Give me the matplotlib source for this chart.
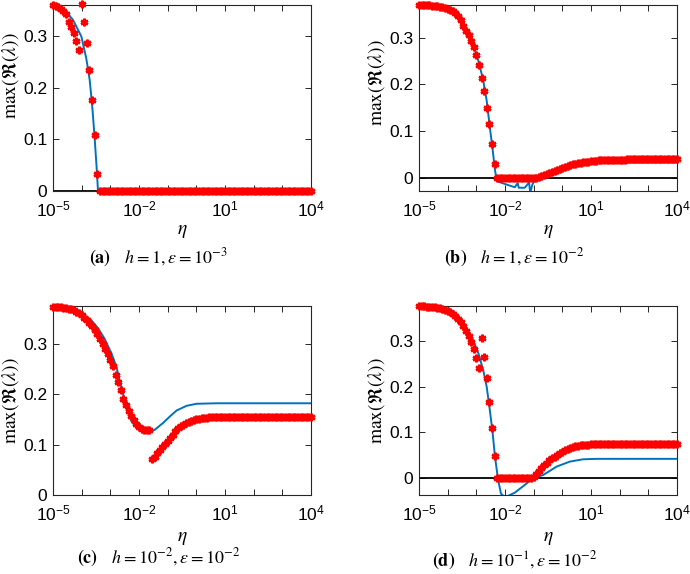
import numpy as np
import matplotlib
matplotlib.use("Agg")
import matplotlib.pyplot as plt
from matplotlib.ticker import FixedLocator, NullFormatter

plt.rcParams["font.family"] = ["Liberation Sans", "DejaVu Sans"]
plt.rcParams["mathtext.fontset"] = "stix"

# grid of eta values (100 points, log-spaced) used for the red markers
eta = np.logspace(-5, 4, 100)

# red markers, one value per eta
red_a = [0.360, 0.359, 0.357, 0.353, 0.348, 0.343, 0.328, 0.318, 0.305, 0.291,
         0.273, 0.362, 0.328, 0.286, 0.235, 0.177, 0.108, 0.033] + [0.0] * 82
red_b = ([0.370, 0.370, 0.370, 0.369, 0.369, 0.368, 0.368, 0.367, 0.366, 0.365,
          0.364, 0.362, 0.360, 0.357, 0.353, 0.347, 0.338,
          0.326, 0.315, 0.305, 0.294, 0.281, 0.264, 0.242, 0.214, 0.186, 0.150,
          0.115, 0.072, 0.030]
         + [0.0] * 16
         + [0.002, 0.004, 0.006, 0.008, 0.010, 0.012, 0.015, 0.017, 0.019, 0.021,
            0.023, 0.025, 0.027, 0.029, 0.030, 0.031, 0.032, 0.033, 0.034, 0.035,
            0.036, 0.0365, 0.037, 0.0373, 0.0376,
            0.0378, 0.038, 0.0382, 0.0384, 0.0386, 0.0388, 0.039, 0.0392, 0.0394,
            0.0396, 0.0398, 0.040]
         + [0.040] * 17)
red_c = ([0.373, 0.373, 0.373, 0.373, 0.372, 0.371, 0.370, 0.369, 0.367, 0.364,
          0.361, 0.357, 0.352, 0.347, 0.342, 0.336, 0.328,
          0.320, 0.310, 0.300, 0.290, 0.280, 0.268, 0.255, 0.239, 0.224, 0.209,
          0.191, 0.178, 0.166, 0.156, 0.148, 0.140, 0.134, 0.130, 0.128, 0.128, 0.129,
          0.071, 0.076, 0.083, 0.089, 0.095, 0.101, 0.107, 0.114, 0.120, 0.127,
          0.132, 0.136, 0.139, 0.142, 0.144, 0.146, 0.148, 0.150, 0.151, 0.152,
          0.153, 0.1535, 0.154, 0.1545]
         + [0.155] * 38)
red_d = ([0.375, 0.375, 0.375, 0.374, 0.374, 0.373, 0.373, 0.372, 0.371, 0.370,
          0.368, 0.366, 0.363, 0.359, 0.354, 0.348, 0.341,
          0.333, 0.322, 0.311, 0.298, 0.282, 0.262, 0.240,
          0.307, 0.265, 0.218, 0.166, 0.109, 0.049]
         + [0.0] * 14
         + [0.002, 0.008, 0.015, 0.021, 0.028, 0.034, 0.039, 0.043, 0.047, 0.051,
            0.055, 0.058, 0.061, 0.064, 0.066, 0.068, 0.0695, 0.0705, 0.0715, 0.072,
            0.0725, 0.073, 0.0735, 0.074]
         + [0.0745] * 32)

# blue curves: log10(eta) and value
blue_a_x = [-5.0, -4.8, -4.59, -4.30, -4.01, -3.84, -3.72, -3.63, -3.55, -3.48, -3.43, 4.0]
blue_a_y = [0.360, 0.357, 0.350, 0.331, 0.299, 0.257, 0.215, 0.163, 0.105, 0.047, 0.0, 0.0]

blue_b_x = [-5.0, -4.5, -4.0, -3.7, -3.55, -3.40, -3.16, -2.93, -2.76, -2.64, -2.53,
            -2.43, -2.35, -2.29, -2.24, -2.0, -1.66, -1.56, -1.52, -1.31, -1.16,
            -1.12, -1.05, -0.96, -0.90, -0.68, -0.20, 0.26, 0.71, 1.19, 4.0]
blue_b_y = [0.370, 0.369, 0.364, 0.350, 0.340, 0.326, 0.294, 0.251, 0.209, 0.166, 0.109,
            0.060, 0.017, -0.004, -0.008, -0.013, -0.020, -0.011, -0.021, -0.021, -0.010,
            -0.032, -0.015, -0.004, 0.0, 0.006, 0.019, 0.028, 0.031, 0.0326, 0.033]

blue_c_x = [-5.0, -4.5, -4.0, -3.67, -3.43, -3.2, -2.97, -2.79, -2.68, -2.56, -2.45,
            -2.33, -2.15, -1.92, -1.69, -1.46, -1.17, -0.92, -0.69, -0.34, 0.01, 0.7, 4.0]
blue_c_y = [0.373, 0.371, 0.361, 0.347, 0.331, 0.310, 0.282, 0.255, 0.229, 0.202, 0.176,
            0.154, 0.137, 0.127, 0.1246, 0.129, 0.1425, 0.156, 0.1676, 0.177, 0.181, 0.182, 0.182]

blue_d_x = [-5.0, -4.5, -3.98, -3.63, -3.40, -3.16, -2.93, -2.76, -2.64, -2.53, -2.43,
            -2.35, -2.24, -2.14, -2.0, -1.66, -1.31, -1.02, -0.67, -0.20, 0.26, 0.72, 1.19, 4.0]
blue_d_y = [0.375, 0.374, 0.368, 0.353, 0.335, 0.309, 0.273, 0.236, 0.200, 0.149, 0.098,
            0.047, -0.004, -0.034, -0.042, -0.032, -0.015, 0.0, 0.0066, 0.025, 0.036, 0.041, 0.042, 0.042]

captions = [r"$\mathbf{(a)}$   $h=1, \varepsilon=10^{-3}$",
            r"$\mathbf{(b)}$   $h=1, \varepsilon=10^{-2}$",
            r"$\mathbf{(c)}$   $h=10^{-2}, \varepsilon=10^{-2}$",
            r"$\mathbf{(d)}$   $h=10^{-1}, \varepsilon=10^{-2}$"]

panels = [
    (red_a, blue_a_x, blue_a_y, (0, 0.36), True),
    (red_b, blue_b_x, blue_b_y, (-0.028, 0.37), True),
    (red_c, blue_c_x, blue_c_y, (0, 0.375), False),
    (red_d, blue_d_x, blue_d_y, (-0.037, 0.376), True),
]

W, H = 690, 574
boxes = [(53, 5, 311, 191), (419, 5, 677, 191), (53, 306, 311, 495), (419, 306, 677, 495)]
cap_pos = [(158, 258), (514, 258), (159, 558), (515, 561)]
ylab_y = [0.62, 0.58, 0.5, 0.5]
xlab_off = [32, 32, 35, 35]

fig = plt.figure(figsize=(6.9, 5.74), dpi=100)
blue = "#0072BD"
edge = "#262626"

for k, (red, bx, by, ylim, zline) in enumerate(panels):
    l, t, r, b = boxes[k]
    ax = fig.add_axes([l / W, 1 - b / H, (r - l) / W, (b - t) / H])
    if zline:
        ax.plot([1e-5, 1e4], [0, 0], color="black", lw=1.3, zorder=2)
    ax.plot(10.0 ** np.array(bx), by, color=blue, lw=1.4, zorder=3)
    ax.plot(eta, red, ls="none", marker=(6, 2, 0), ms=5.5, mew=1.8, color="red",
            zorder=4, clip_on=False)
    ax.set_xscale("log")
    ax.set_xlim(1e-5, 1e4)
    ax.set_ylim(*ylim)
    ax.xaxis.set_major_locator(FixedLocator([1e-5, 1e-2, 1e1, 1e4]))
    ax.set_xticklabels([r"$\mathregular{10^{-5}}$", r"$\mathregular{10^{-2}}$",
                        r"$\mathregular{10^{1}}$", r"$\mathregular{10^{4}}$"])
    ax.xaxis.set_minor_locator(FixedLocator(10.0 ** np.arange(-5, 5)))
    ax.xaxis.set_minor_formatter(NullFormatter())
    ax.set_yticks([0, 0.1, 0.2, 0.3])
    ax.set_yticklabels(["0", "0.1", "0.2", "0.3"])
    ax.tick_params(which="both", direction="in", top=True, right=True, length=4,
                   width=0.7, color=edge, labelsize=12.5)
    ax.tick_params(axis="y", pad=4)
    ax.tick_params(axis="x", pad=6)
    for s in ax.spines.values():
        s.set_color(edge)
        s.set_linewidth(0.8)
    ax.set_ylabel(r"$\max(\Re(\lambda))$", fontsize=14)
    ax.yaxis.set_label_coords(-32 / (r - l), ylab_y[k])
    ax.set_xlabel(r"$\eta$", fontsize=14)
    ax.xaxis.set_label_coords(0.5, -xlab_off[k] / (b - t))
    cx, cy = cap_pos[k]
    fig.text(cx / W, 1 - cy / H, captions[k], ha="center", va="center", fontsize=13)

fig.savefig("out.png", dpi=100)
